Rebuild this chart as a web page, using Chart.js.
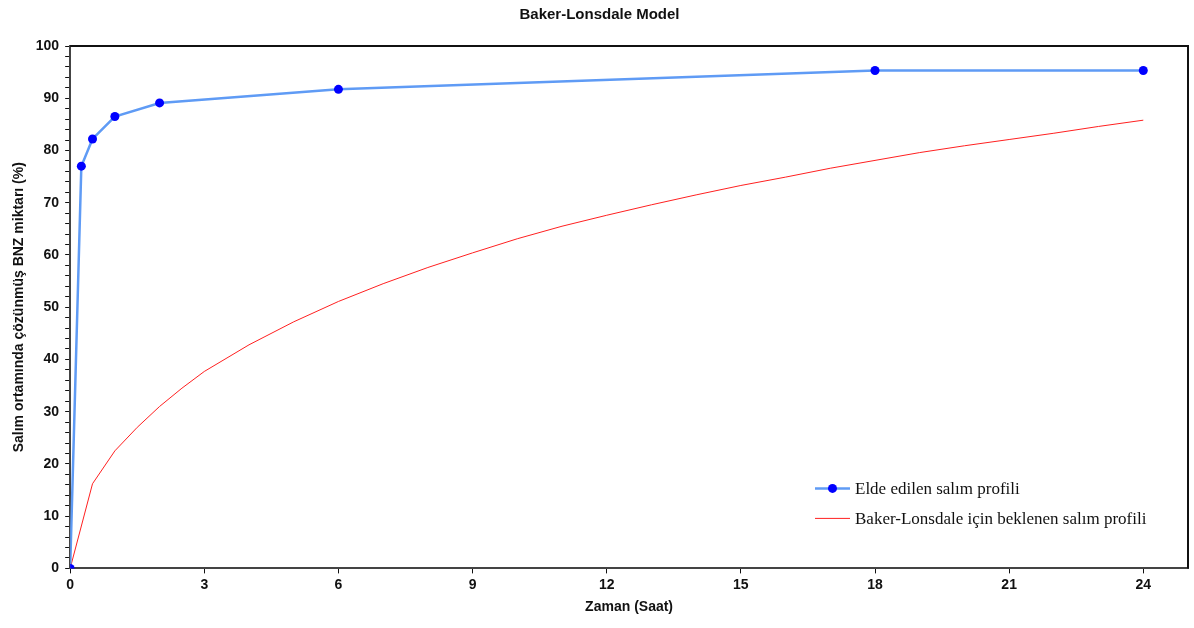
<!DOCTYPE html>
<html>
<head>
<meta charset="utf-8">
<script src="https://cdn.jsdelivr.net/npm/chart.js@4"></script>
<style>
  body { margin: 0; background: #fff; }
</style>
</head>
<body>
<canvas id="chart" width="1194" height="628"></canvas>
<script>
// olcum noktalari (saat, %)
var elde_t = [0, 0.25, 0.5, 1, 2, 6, 18, 24];
var elde_y = [0, 77.0, 82.2, 86.5, 89.1, 91.7, 95.3, 95.3];

// Baker-Lonsdale beklenen egri
var bl_t = [0, 0.5, 1, 1.5, 2, 2.5, 3, 4, 5, 6, 7, 8, 9, 10, 11, 12, 13, 14, 15, 16, 17, 18, 19, 20, 21, 22, 23, 24];
var bl_y = [0, 16.2, 22.5, 27.0, 31.0, 34.5, 37.7, 42.8, 47.2, 51.1, 54.5, 57.6, 60.4, 63.1, 65.5, 67.6, 69.6, 71.5, 73.3, 74.9, 76.6, 78.1, 79.6, 80.9, 82.1, 83.3, 84.6, 85.8];

var xTicks = [0, 3, 6, 9, 12, 15, 18, 21, 24];

function toPoints(xs, ys) {
    var pts = [];
    for (var i = 0; i < xs.length; i++) pts.push({x: xs[i], y: ys[i]});
    return pts;
}

var axisFont = {family: 'Arial, "Liberation Sans", sans-serif', size: 14, weight: 'bold'};

// cerceve ve grafik ici legend
var frameAndLegend = {
    id: 'frameAndLegend',
    afterDraw: function(chart) {
        var c = chart.ctx, a = chart.chartArea;
        c.save();
        c.strokeStyle = '#111';
        c.lineWidth = 2;
        c.beginPath();
        c.moveTo(a.left, a.top);
        c.lineTo(a.right, a.top);
        c.lineTo(a.right, a.bottom);
        c.stroke();

        var ds = chart.data.datasets;
        var x0 = a.right - 373, y0 = a.bottom - 80;
        c.font = '17px "Liberation Serif", "Times New Roman", serif';
        c.textBaseline = 'middle';
        for (var i = 0; i < ds.length; i++) {
            var y = y0 + i * 30;
            c.strokeStyle = ds[i].borderColor;
            c.lineWidth = ds[i].borderWidth;
            c.beginPath();
            c.moveTo(x0, y);
            c.lineTo(x0 + 35, y);
            c.stroke();
            if (ds[i].pointRadius > 0) {
                c.fillStyle = ds[i].pointBackgroundColor;
                c.beginPath();
                c.arc(x0 + 17.5, y, ds[i].pointRadius, 0, Math.PI * 2);
                c.fill();
            }
            c.fillStyle = '#111';
            c.fillText(ds[i].label, x0 + 40, y + 1);
        }
        c.restore();
    }
};

var ctx = document.getElementById('chart').getContext('2d');
var chart = new Chart(ctx, {
    type: 'line',
    data: {
        datasets: [
            {
                label: 'Elde edilen salım profili',
                data: toPoints(elde_t, elde_y),
                borderColor: 'rgb(95,155,245)',
                borderWidth: 2.5,
                pointRadius: 4.5,
                pointBackgroundColor: '#0000ff',
                pointBorderWidth: 0,
                tension: 0
            },
            {
                label: 'Baker-Lonsdale için beklenen salım profili',
                data: toPoints(bl_t, bl_y),
                borderColor: '#ff2020',
                borderWidth: 1,
                pointRadius: 0,
                tension: 0
            }
        ]
    },
    options: {
        responsive: false,
        animation: false,
        layout: {padding: {left: 11, right: 6, top: 0, bottom: 12}},
        plugins: {
            legend: {display: false},
            tooltip: {enabled: false},
            title: {
                display: true,
                text: 'Baker-Lonsdale Model',
                color: '#111',
                font: {family: 'Arial, "Liberation Sans", sans-serif', size: 15, weight: 'bold'},
                padding: {top: 6, bottom: 22}
            }
        },
        scales: {
            x: {
                type: 'linear',
                min: 0,
                max: 25,
                afterBuildTicks: function(axis) {
                    axis.ticks = xTicks.map(function(v) { return {value: v}; });
                },
                grid: {drawOnChartArea: false, drawTicks: true, tickLength: 5, tickColor: '#111'},
                border: {color: '#444', width: 2},
                ticks: {color: '#111', font: axisFont, padding: 3, maxRotation: 0},
                title: {display: true, text: 'Zaman (Saat)', color: '#111', font: axisFont, padding: {top: 3, bottom: 0}}
            },
            y: {
                min: 0,
                max: 100,
                ticks: {
                    stepSize: 2,
                    autoSkip: false,
                    color: '#111',
                    font: axisFont,
                    padding: 6,
                    callback: function(v) { return v % 10 === 0 ? v : ''; }
                },
                grid: {drawOnChartArea: false, drawTicks: true, tickLength: 5, tickColor: '#111'},
                border: {color: '#444', width: 2},
                title: {display: true, text: 'Salım ortamında çözünmüş BNZ miktarı (%)', color: '#111', font: axisFont, padding: {top: 0, bottom: 2}}
            }
        }
    },
    plugins: [frameAndLegend]
});
</script>
</body>
</html>
